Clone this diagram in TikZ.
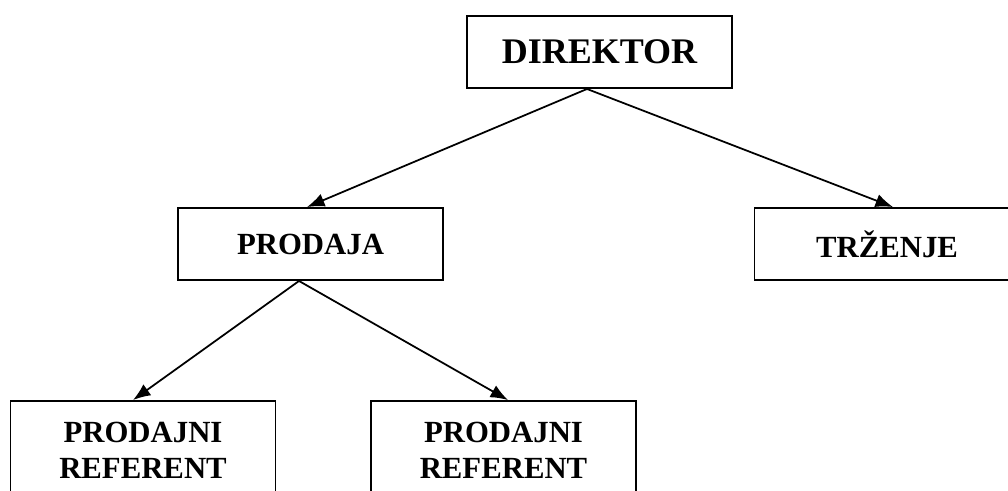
\documentclass[tikz,border=0pt]{standalone}
\usepackage{fontspec}
\setmainfont{Liberation Serif}
\usepackage{tikz}
\usetikzlibrary{arrows.meta}

\tikzset{
	box/.style={draw, line width=1.1pt, minimum width=5.3cm, minimum height=1.44cm, align=center, font=\bfseries\fontsize{17.5}{20.5}\selectfont},
	link/.style={->, line width=1pt}
}

\begin{document}
\begin{tikzpicture}[>={Latex[length=3.5mm,width=2.7mm]}]
	%\draw [help lines] (0,0) grid (20,-10);
	\clip (0,0) rectangle (20.16,-9.8);
	\node [box, font=\bfseries\fontsize{20.5}{24}\selectfont] (direktor) at (11.99,-1.04) {DIREKTOR};
	\node [box] (prodaja) at (6.21,-4.88) {PRODAJA};
	\node [box] (trzenje) at (17.74,-4.88) {TRŽENJE};
	\node [box, minimum height=1.96cm] (referent1) at (2.86,-9.0) {PRODAJNI\\REFERENT};
	\node [box, minimum height=1.96cm] (referent2) at (10.07,-9.0) {PRODAJNI\\REFERENT};
	\draw [link] ([xshift=-0.25cm]direktor.south) -- ([xshift=-0.07cm]prodaja.north);
	\draw [link] ([xshift=-0.25cm]direktor.south) -- ([xshift=0.12cm]trzenje.north);
	\draw [link] ([xshift=-0.23cm]prodaja.south) -- ([xshift=-0.2cm]referent1.north);
	\draw [link] ([xshift=-0.23cm]prodaja.south) -- ([xshift=0.09cm]referent2.north);
\end{tikzpicture}
\end{document}
